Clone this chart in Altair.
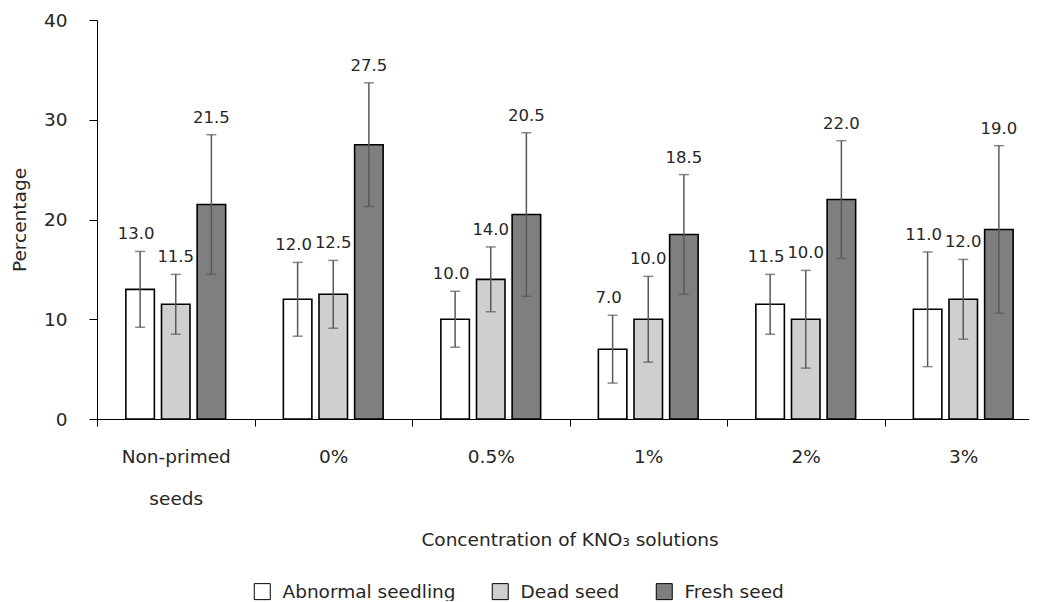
import altair as alt
import pandas as pd

FONT = "DejaVu Sans"
FS = 18.5
LFS = 16.5

categories = ["Non-primed seeds", "0%", "0.5%", "1%", "2%", "3%"]
series = ["Abnormal seedling", "Dead seed", "Fresh seed"]
abnormal = [13.0, 12.0, 10.0, 7.0, 11.5, 11.0]
dead = [11.5, 12.5, 14.0, 10.0, 10.0, 12.0]
fresh = [21.5, 27.5, 20.5, 18.5, 22.0, 19.0]
abnormal_err = [3.8, 3.7, 2.8, 3.4, 3.0, 5.75]
dead_err = [3.0, 3.4, 3.25, 4.3, 4.9, 4.0]
fresh_err = [7.0, 6.2, 8.2, 6.0, 5.9, 8.4]
colors = ["#ffffff", "#d0cece", "#7f7f7f"]
y_ticks = [0, 10, 20, 30, 40]

rows = []
for s, vals, errs in zip(series, [abnormal, dead, fresh], [abnormal_err, dead_err, fresh_err]):
    for c, v, e in zip(categories, vals, errs):
        rows.append({"cat": c, "series": s, "value": v, "lo": v - e, "hi": v + e,
                     "label": f"{v:.1f}"})
df = pd.DataFrame(rows)

x_enc = alt.X(
    "cat:N", sort=categories,
    scale=alt.Scale(paddingInner=0, paddingOuter=0),
    axis=alt.Axis(
        title="Concentration of KNO\u2083 solutions", labelAngle=0, tickBand="extent",
        tickSize=7, labelPadding=21, labelLineHeight=42,
        labelExpr="datum.value == 'Non-primed seeds' ? ['Non-primed', 'seeds'] : datum.label",
        domainColor="black", tickColor="black", titlePadding=23, grid=False,
        labelFont=FONT, titleFont=FONT, labelFontSize=FS, titleFontSize=FS,
        labelColor="#262626", titleColor="#262626", titleFontWeight="normal",
    ),
)
xo_enc = alt.XOffset("series:N", sort=series,
                     scale=alt.Scale(paddingInner=0.2, paddingOuter=0.81))
y_scale = alt.Scale(domain=[0, 40], nice=False)

base = alt.Chart(df).encode(x=x_enc, xOffset=xo_enc)

bars = base.mark_bar(stroke="black", strokeWidth=1.6).encode(
    y=alt.Y("value:Q", scale=y_scale, axis=alt.Axis(
        title="Percentage", values=y_ticks, tickSize=8, labelPadding=22, titlePadding=14,
        grid=False, domainColor="black", tickColor="black",
        labelFont=FONT, titleFont=FONT, labelFontSize=FS, titleFontSize=FS,
        labelColor="#262626", titleColor="#262626", titleFontWeight="normal",
    )),
    fill=alt.Fill("series:N", scale=alt.Scale(domain=series, range=colors),
                  legend=alt.Legend(
                      title=None, orient="none", legendX=156, legendY=562,
                      direction="horizontal", symbolType="square", symbolSize=256,
                      symbolStrokeColor="black", symbolStrokeWidth=1,
                      labelFont=FONT, labelFontSize=FS, labelColor="#262626",
                      labelLimit=0, columnPadding=34, labelOffset=11, padding=0,
                  )),
)

err = base.mark_rule(color="#595959", strokeWidth=1.5).encode(
    y=alt.Y("lo:Q", scale=y_scale), y2="hi:Q")
cap_top = base.mark_tick(orient="horizontal", size=10, thickness=1.5, color="#595959").encode(
    y=alt.Y("hi:Q", scale=y_scale))
cap_bot = base.mark_tick(orient="horizontal", size=10, thickness=1.5, color="#595959").encode(
    y=alt.Y("lo:Q", scale=y_scale))
labels_ab = base.mark_text(dy=-17, dx=-4, font=FONT, fontSize=LFS, color="#262626",
                           baseline="middle").encode(
    y=alt.Y("hi:Q", scale=y_scale), text="label:N"
).transform_filter(alt.datum.series == series[0])
labels_rest = base.mark_text(dy=-17, font=FONT, fontSize=LFS, color="#262626",
                             baseline="middle").encode(
    y=alt.Y("hi:Q", scale=y_scale), text="label:N"
).transform_filter(alt.datum.series != series[0])

chart = alt.layer(bars, err, cap_top, cap_bot, labels_ab, labels_rest).properties(
    width=945, height=399,
    autosize=alt.AutoSizeParams(type="none"),
    padding={"left": 89, "top": 12, "right": -13, "bottom": 182},
).configure_view(stroke=None)

chart.save("out.html", embed_options={"renderer": "svg", "actions": False})
